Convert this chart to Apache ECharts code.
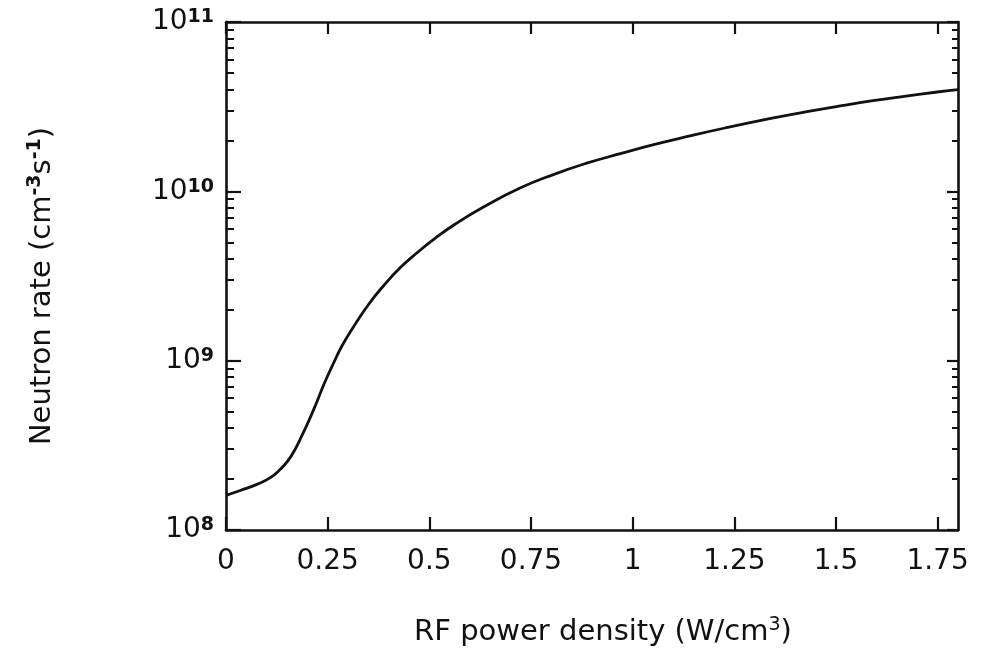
<!DOCTYPE html>
<html><head><meta charset="utf-8">
<script src="https://cdn.jsdelivr.net/npm/echarts@6/dist/echarts.min.js"></script>
<style>html,body{margin:0;padding:0;background:#fff}#c{width:984px;height:652px}</style>
</head><body><div id="c"></div>
<script>
// RF power density (W/cm^3)
const xValues = [0, 0.035, 0.076, 0.109, 0.134, 0.151, 0.168, 0.186, 0.203, 0.220, 0.234, 0.247, 0.264, 0.285, 0.311, 0.350, 0.388, 0.430, 0.472, 0.514, 0.564, 0.631, 0.723, 0.805, 0.887, 0.972, 1.054, 1.135, 1.227, 1.343, 1.425, 1.507, 1.591, 1.672, 1.754, 1.8];
// Neutron rate (cm^-3 s^-1)
const neutronRate = [1.60e8, 1.71e8, 1.86e8, 2.04e8, 2.29e8, 2.54e8, 2.94e8, 3.58e8, 4.38e8, 5.45e8, 6.62e8, 7.85e8, 9.62e8, 1.22e9, 1.55e9, 2.14e9, 2.78e9, 3.57e9, 4.38e9, 5.28e9, 6.41e9, 8.02e9, 1.045e10, 1.256e10, 1.466e10, 1.675e10, 1.892e10, 2.109e10, 2.366e10, 2.704e10, 2.944e10, 3.184e10, 3.428e10, 3.648e10, 3.873e10, 3.99e10];

const xTickValues = [0, 0.25, 0.5, 0.75, 1, 1.25, 1.5, 1.75];
const xTickLabels = ['0', '0.25', '0.5', '0.75', '1', '1.25', '1.5', '1.75'];
const yMajorTicks = [1e8, 1e9, 1e10, 1e11];
const yTickExponents = ['8', '9', '10', '11'];
const yMinorTicks = [2e8, 3e8, 4e8, 5e8, 6e8, 7e8, 8e8, 9e8,
                     2e9, 3e9, 4e9, 5e9, 6e9, 7e9, 8e9, 9e9,
                     2e10, 3e10, 4e10, 5e10, 6e10, 7e10, 8e10, 9e10];

const FONT = 'DejaVu Sans';
const INK = '#111';
const lineW = 2.6;

function yAxisBase(pos) {
  return {
    type: 'log', logBase: 10, min: 1e8, max: 1e11, position: pos,
    splitLine: { show: false },
    axisLine: { show: true, onZero: false, lineStyle: { color: INK, width: lineW } },
    axisLabel: { show: false },
    axisTick: { show: true, inside: true, length: 15, lineStyle: { color: INK, width: 2.2 }, customValues: yMajorTicks }
  };
}

const yLeft = yAxisBase('left');
yLeft.axisLabel = {
  show: true, customValues: yMajorTicks, margin: 12,
  formatter: function (v) {
    const i = yMajorTicks.findIndex(t => Math.abs(Math.log10(t) - Math.log10(v)) < 1e-6);
    return '{b|10}{s|' + (i >= 0 ? yTickExponents[i] : '') + '}';
  },
  rich: {
    b: { fontFamily: FONT, fontSize: 28, lineHeight: 28, color: INK },
    s: { fontFamily: FONT, fontSize: 19, lineHeight: 19, fontWeight: 'bold', color: INK, verticalAlign: 'top' }
  }
};
yLeft.name = '{n|Neutron rate (cm}{s|-3}{n|s}{s|-1}{n|)}';
yLeft.nameLocation = 'middle';
yLeft.nameGap = 168;
yLeft.nameTextStyle = {
  padding: [0, 20, 0, 0],
  rich: {
    n: { fontFamily: FONT, fontSize: 29, lineHeight: 32, color: INK },
    s: { fontFamily: FONT, fontSize: 19, lineHeight: 19, fontWeight: 'bold', color: INK, verticalAlign: 'top' }
  }
};

const yLeftMinor = yAxisBase('left');
yLeftMinor.axisLine = { show: false, onZero: false };
yLeftMinor.axisTick = { show: true, inside: true, length: 8, lineStyle: { color: INK, width: 2 }, customValues: yMinorTicks };

const yRight = yAxisBase('right');
yRight.axisTick = { show: true, inside: true, length: 11, lineStyle: { color: INK, width: 2.2 }, customValues: yMajorTicks };
const yRightMinor = yAxisBase('right');
yRightMinor.axisLine = { show: false, onZero: false };
yRightMinor.axisTick = { show: true, inside: true, length: 6, lineStyle: { color: INK, width: 2 }, customValues: yMinorTicks };

const option = {
  animation: false,
  backgroundColor: '#fff',
  grid: { left: 226, right: 26, top: 22, bottom: 122, containLabel: false },
  xAxis: [
    {
      type: 'value', min: 0, max: 1.8, position: 'bottom',
      splitLine: { show: false },
      axisLine: { show: true, onZero: false, lineStyle: { color: INK, width: lineW } },
      axisTick: { show: true, inside: true, length: 13, lineStyle: { color: INK, width: 2.2 }, customValues: xTickValues },
      axisLabel: {
        customValues: xTickValues, margin: 18,
        formatter: function (v) {
          const i = xTickValues.findIndex(t => Math.abs(t - v) < 1e-9);
          return i >= 0 ? xTickLabels[i] : '';
        },
        fontFamily: FONT, fontSize: 28, color: INK
      },
      name: '{n|RF power density (W/cm}{s|3}{n|)}',
      nameLocation: 'middle',
      nameGap: 86,
      nameTextStyle: {
        padding: [0, 0, 0, 22],
        rich: {
          n: { fontFamily: FONT, fontSize: 29, lineHeight: 32, color: INK },
          s: { fontFamily: FONT, fontSize: 19, lineHeight: 19, color: INK, verticalAlign: 'top' }
        }
      }
    },
    {
      type: 'value', min: 0, max: 1.8, position: 'top',
      splitLine: { show: false },
      axisLine: { show: true, onZero: false, lineStyle: { color: INK, width: lineW } },
      axisTick: { show: true, inside: true, length: 12, lineStyle: { color: INK, width: 2.2 }, customValues: xTickValues },
      axisLabel: { show: false }
    }
  ],
  yAxis: [yLeft, yLeftMinor, yRight, yRightMinor],
  series: [{
    type: 'line',
    xAxisIndex: 0, yAxisIndex: 0,
    data: xValues.map((x, i) => [x, neutronRate[i]]),
    showSymbol: false,
    smooth: 0.5,
    lineStyle: { color: INK, width: 2.8 }
  }]
};

const chart = echarts.init(document.getElementById('c'), null, { renderer: 'canvas' });
chart.setOption(option);
</script>
</body></html>
